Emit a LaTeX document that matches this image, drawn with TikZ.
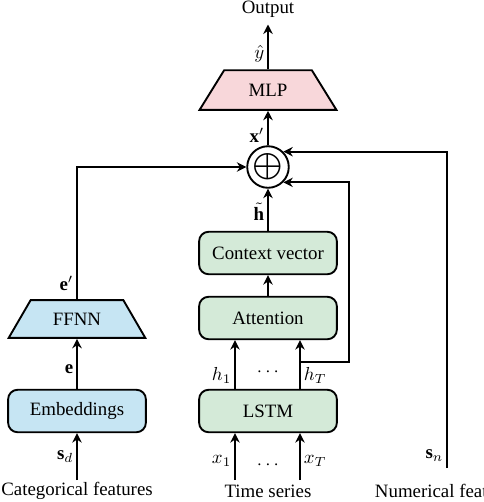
\documentclass[tikz,border=0pt]{standalone}
\usepackage{fontspec}
\setmainfont{Liberation Serif}
\usetikzlibrary{arrows,arrows.meta,calc,shapes,positioning}

\definecolor{mlppink}{RGB}{248,215,218}
\definecolor{seqgreen}{RGB}{212,234,216}
\definecolor{catblue}{RGB}{198,229,243}

\tikzset{
  block/.style={draw,rounded corners=5pt,minimum width=73pt,minimum height=22.5pt},
  trap/.style={draw,trapezium,trapezium angle=60,trapezium stretches=true,
    minimum width=72.6pt,minimum height=21pt},
  lbl/.style={inner sep=1.5pt}
}

\begin{document}
\begin{tikzpicture}[x=0.53pt,y=-0.53pt,>={Stealth[length=5pt,width=5pt]},line width=1pt]
\useasboundingbox (0,0) rectangle (484,502);

% the blocks
\node (out) at (268,9) {Output};
\node[trap,fill=mlppink] (mlp) at (268,90) {MLP};
\node[circle,draw,minimum size=22pt,inner sep=0pt] (sum) at (268,167)
  {\fontsize{13}{15}\selectfont$\displaystyle\bigoplus$};
\node[block,fill=seqgreen] (ctx) at (268,253) {Context vector};
\node[block,fill=seqgreen] (att) at (268,318) {Attention};
\node[block,fill=seqgreen] (lstm) at (268,411) {LSTM};
\node[block,fill=catblue] (emb) at (77,411) {Embeddings};
\node[trap,fill=catblue,minimum height=20pt] (ffnn) at (77,319) {FFNN};

% the inputs
\node (cat) at (77,491) {Categorical features};
\node (ts) at (268,491) {Time series};
\node (num) at (447,491) {Numerical features};
\coordinate (sdin) at (77,480);
\coordinate (x1in) at (235,480);
\coordinate (xTin) at (300,480);
\coordinate (snin) at (447,468);
\coordinate (h1) at (235,390);
\coordinate (hT) at (300,390);
\coordinate (br) at (300,362);

% the arrows
\draw[->] (mlp.north) -- node[lbl,left,pos=0.35] {$\hat{y}$} (out);
\draw[->] (sum) -- node[lbl,left,pos=0.3] {$\mathbf{x}'$} (mlp.south);
\draw[->] (ctx) -- node[lbl,left,pos=0.45] {$\tilde{\mathbf{h}}$} (sum);
\draw[->] (att) -- (ctx);
\draw[->] (h1) -- node[lbl,left,pos=0.3] {$h_1$} (h1 |- att.south);
\draw[->] (hT) -- node[lbl,right,pos=0.3] {$h_T$} (hT |- att.south);
\draw[->] (x1in) -- node[lbl,left,pos=0.4] {$x_1$} (x1in |- lstm.south);
\draw[->] (xTin) -- node[lbl,right,pos=0.4] {$x_T$} (xTin |- lstm.south);
\node (hdots) at (268,372) {$\cdots$};
\node (xdots) at (268,465) {$\cdots$};
\draw[->] (br) -- ++(49,0) |- (sum.-45);
\draw[->] (snin) |- node[lbl,left,pos=0.02] {$\mathbf{s}_n$} (sum.45);
\draw[->] (sdin) -- node[lbl,left] {$\mathbf{s}_d$} (emb);
\draw[->] (emb) -- node[lbl,left,pos=0.4] {$\mathbf{e}$} (ffnn.south);
\draw[->] (ffnn.north) |- node[lbl,left,pos=0.06] {$\mathbf{e}'$} (sum);
\end{tikzpicture}
\end{document}
